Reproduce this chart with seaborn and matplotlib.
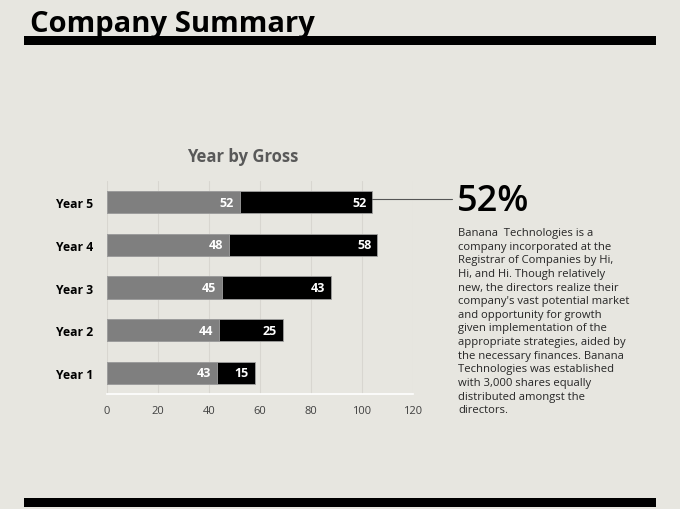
import matplotlib
matplotlib.use("Agg")
import matplotlib.pyplot as plt
import seaborn as sns
import pandas as pd
from matplotlib.transforms import offset_copy
from matplotlib.lines import Line2D

categories = ["Year 5", "Year 4", "Year 3", "Year 2", "Year 1"]
series_a = [52, 48, 45, 44, 43]
series_b = [52, 58, 43, 25, 15]
x_ticks = [0, 20, 40, 60, 80, 100, 120]

chart_title = "Year by Gross"
page_title = "Company Summary"
big_stat = "52%"
paragraph = ("Banana  Technologies is a\n"
             "company incorporated at the\n"
             "Registrar of Companies by Hi,\n"
             "Hi, and Hi. Though relatively\n"
             "new, the directors realize their\n"
             "company's vast potential market\n"
             "and opportunity for growth\n"
             "given implementation of the\n"
             "appropriate strategies, aided by\n"
             "the necessary finances. Banana\n"
             "Technologies was established\n"
             "with 3,000 shares equally\n"
             "distributed amongst the\n"
             "directors.")

BG = "#E7E6E0"
sns.set_theme(style="white")
plt.rcParams["font.family"] = ["Open Sans", "DejaVu Sans"]

W, H = 680, 510
fig = plt.figure(figsize=(6.8, 5.1), dpi=100, facecolor=BG)

def fx(px):
    return px / W

def fy(py):
    return 1 - py / H

# decorative bars
for ytop, ybot in [(37, 46), (499, 508)]:
    fig.add_artist(plt.Rectangle((fx(24), fy(ybot)), fx(656) - fx(24), fy(ytop) - fy(ybot),
                                 transform=fig.transFigure, facecolor="black", edgecolor="none"))

fig.text(fx(30), fy(32), page_title, fontsize=21, fontweight="bold", color="black",
         ha="left", va="baseline", zorder=5)

df = pd.DataFrame({"cat": categories, "a": series_a, "b": series_b})
df["total"] = df["a"] + df["b"]

ax = fig.add_axes([fx(107), fy(395), fx(413) - fx(107), fy(182) - fy(395)])
ax.set_facecolor(BG)
sns.barplot(data=df, y="cat", x="total", order=categories, color="black",
            width=0.52, ax=ax, edgecolor="#a0a0a0", linewidth=0.6, saturation=1)
sns.barplot(data=df, y="cat", x="a", order=categories, color="#7F7F7F",
            width=0.52, ax=ax, edgecolor="#a0a0a0", linewidth=0.6, saturation=1)

ax.set_xlim(0, 120)
ax.set_xticks(x_ticks)
ax.set_xticklabels([str(t) for t in x_ticks], fontsize=8, color="#404040")
ax.tick_params(axis="x", length=0, pad=8)
ax.tick_params(axis="y", length=0, pad=10)
for lab in ax.get_yticklabels():
    lab.set_fontweight("bold")
    lab.set_fontsize(8.7)
    lab.set_color("black")
ax.set_xlabel("")
ax.set_ylabel("")
ax.grid(axis="x", color="#D8D6D0", linewidth=0.8)
ax.set_axisbelow(True)
for s in ["top", "right", "left"]:
    ax.spines[s].set_visible(False)
ax.spines["bottom"].set_color("white")
ax.spines["bottom"].set_linewidth(1.2)

tr = offset_copy(ax.transData, fig=fig, x=-6, y=0, units="dots")
for i, (a, b) in enumerate(zip(series_a, series_b)):
    ax.text(a, i, str(a), transform=tr, ha="right", va="center", color="white",
            fontsize=9, fontweight="bold")
    ax.text(a + b, i, str(b), transform=tr, ha="right", va="center", color="white",
            fontsize=9, fontweight="bold")

fig.text(fx(243), fy(157), chart_title, fontsize=12, fontweight="bold", color="#595959",
         ha="center", va="center")

# connector line from Year 5 bar end
x0_disp = ax.transData.transform((series_a[0] + series_b[0], 0))
x0_fig = fig.transFigure.inverted().transform(x0_disp)
fig.add_artist(Line2D([x0_fig[0], fx(452)], [fy(200), fy(200)], transform=fig.transFigure,
                      color="#555555", linewidth=0.8))

fig.text(fx(457), fy(202), big_stat, fontsize=26, fontweight="semibold", color="black",
         ha="left", va="center")
fig.text(fx(458), fy(228), paragraph, fontsize=8.1, color="#262626", ha="left", va="top",
         linespacing=1.33)

fig.savefig("out.png", dpi=100, facecolor=BG)
